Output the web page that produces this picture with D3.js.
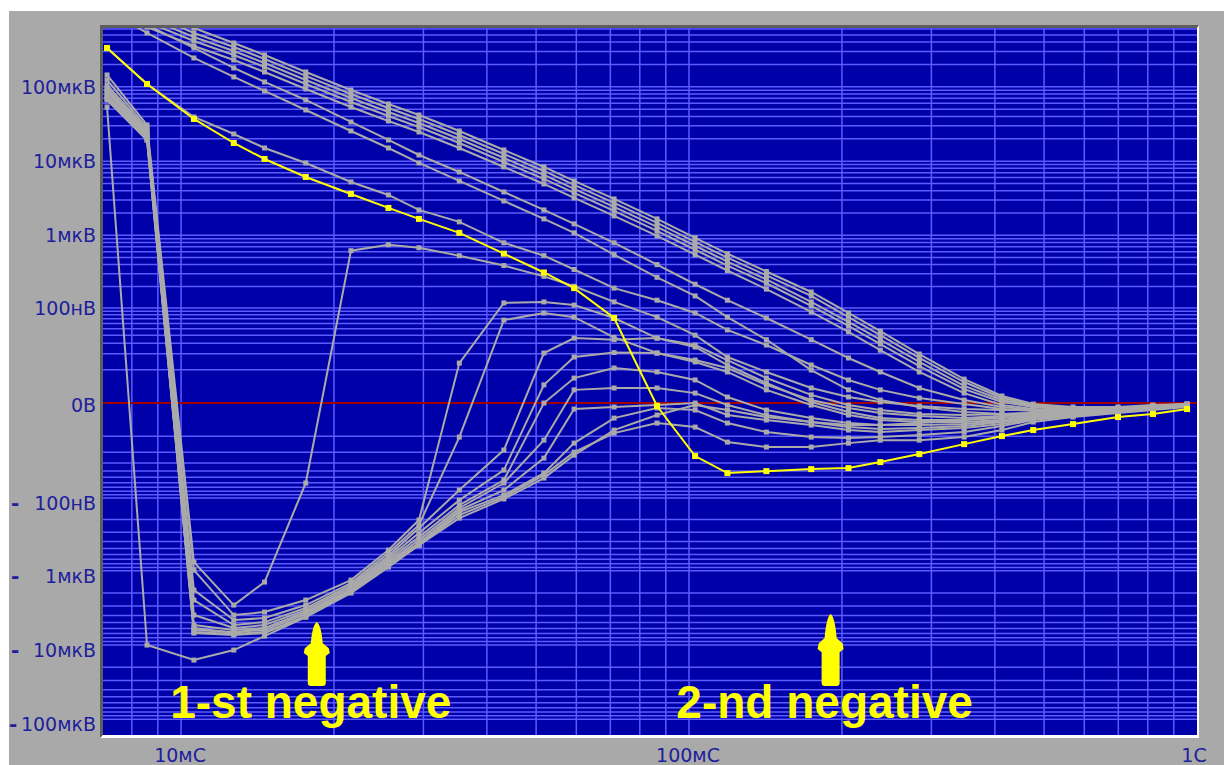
<!DOCTYPE html>
<html>
<head>
<meta charset="utf-8">
<script src="https://cdn.jsdelivr.net/npm/d3@7"></script>
<style>
  body { margin: 0; background: #ffffff; }
  svg { display: block; }
  .tick-label { font-family: "DejaVu Sans", sans-serif; font-size: 19px; fill: #20209c; }
  .minus { font-family: "DejaVu Sans", sans-serif; font-size: 20px; font-weight: bold; fill: #20209c; }
  .note { font-family: "Liberation Sans", Arial, sans-serif; font-weight: bold; font-size: 46px; fill: #ffff00; }
</style>
</head>
<body>
<svg id="chart" width="1224" height="765"></svg>
<script>
// sample times of the transient run, ms
var times = [7.15, 8.57, 10.6, 12.7, 14.6, 17.6, 21.6, 25.6, 29.4, 35.3, 43.2, 51.8, 59.4, 71.2, 86.5,
             102.8, 119, 142, 174, 206, 238, 284, 348, 413, 476, 570, 699, 819, 956];

// highlighted trace, nV
var yellowTrace = [333500, 109300, 36930, 17550, 10690, 6120, 3613, 2342, 1665, 1079, 563, 312, 190, 72, -0.54,
                   -23.2, -43.2, -40.3, -37.5, -36.2, -29.1, -21.5, -14.3, -9.93, -7.29, -5.11, -3.03, -2.26, -1.14];

// stepped runs, nV
var grayTraces = [
  [2012000, 1152000, 619800, 389400, 268500, 158500, 90760, 58800, 41810, 25460, 14130, 8345, 5407, 3095, 1665, 924, 563, 322, 168, 85, 46, 19.8, 6.1, 1.35, -0.18, -0.73, -0.73, -0.36, -0.18],
  [1723000, 986500, 530900, 344000, 237100, 140100, 80170, 51940, 36930, 22500, 12480, 7373, 4776, 2734, 1471, 816, 497, 285, 148, 74, 40, 16.9, 5.1, 0.93, -0.36, -0.93, -0.93, -0.54, -0.18],
  [1476000, 845000, 469000, 303900, 209600, 123700, 70810, 45880, 32630, 19880, 11030, 6512, 4220, 2415, 1300, 721, 439, 251, 122, 63, 34, 14.3, 3.9, 0.54, -0.54, -1.14, -0.93, -0.54, -0.18],
  [1264000, 746400, 414300, 268500, 185100, 109300, 62560, 40530, 28830, 17550, 9743, 5752, 3727, 2134, 1148, 637, 388, 222, 107, 55, 29, 11.9, 3.0, 0.18, -0.73, -1.35, -1.14, -0.73, -0.36],
  [1083000, 639200, 354800, 229900, 158500, 93600, 53580, 34710, 24690, 15030, 8345, 4927, 3193, 1827, 983, 546, 332, 184, 88, 45, 23, 9.0, 2.0, -0.36, -1.14, -1.57, -1.35, -0.73, -0.36],
  [2350000, 680000, 333500, 179500, 116300, 66560, 33660, 19270, 12100, 7148, 3843, 2200, 1426, 791, 400, 215, 129, 72, 34, 16.9, 9.0, 3.3, 0.54, -0.73, -1.35, -1.57, -1.35, -0.73, -0.36],
  [1083000, 530900, 244600, 135800, 87990, 48820, 25460, 15030, 9446, 5407, 2909, 1665, 1079, 546, 268, 148, 74, 34, 9.9, 2.8, 0.54, -0.73, -1.79, -2.26, -2.02, -1.79, -1.35, -0.73, -0.36],
  [333500, 109300, 39290, 23200, 15030, 9446, 5242, 3503, 2200, 1518, 791, 529, 343, 190, 129, 85, 48, 28, 12.5, 5.8, 2.8, 0.93, -0.18, -1.14, -1.57, -1.57, -1.35, -0.93, -0.36],
  [144500, 30670, -762, -2904, -1421, -60.7, 618, 744, 678, 529, 388, 276, 202, 122, 74, 40, 17.6, 9.0, 3.3, 1.14, 0.18, -0.54, -1.14, -1.35, -1.35, -1.14, -0.93, -0.54, -0.36],
  [123700, 27950, -978, -3961, -3608, -2485, -1336, -524, -203, 13.6, 118, 122, 110, 72, 36, 28, 15.5, 6.5, 1.6, -0.36, -1.35, -2.26, -2.51, -2.26, -2.02, -1.57, -1.14, -0.73, -0.36],
  [105900, 26270, -1822, -4625, -4347, -2904, -1466, -575, -238, -10.4, 67, 85, 74, 37, 20.6, 15.5, 10.9, 4.2, 0.54, -0.93, -2.02, -2.76, -3.30, -2.76, -2.26, -1.79, -1.35, -0.73, -0.36],
  [96540, 24690, -2485, -5400, -4922, -3187, -1560, -632, -262, -76.9, -18.3, 20.6, 36, 34, 36, 26, 12.5, 4.8, 0.18, -1.79, -3.30, -3.86, -3.86, -3.30, -2.51, -1.79, -1.35, -0.73, -0.36],
  [90760, 23930, -3961, -5927, -5400, -3391, -1660, -672, -307, -107, -38.8, 4.2, 17.6, 21, 20.6, 14.3, 9.0, 2.8, -0.36, -2.51, -3.86, -4.47, -4.47, -3.86, -2.76, -2.02, -1.35, -0.93, -0.54],
  [85300, 22500, -5400, -6305, -5927, -3608, -1766, -716, -348, -126, -54.9, 0, 6.5, 10.9, 9.0, 5.8, 1.14, -1.35, -3.30, -4.78, -5.45, -5.45, -5.11, -4.15, -3.03, -2.26, -1.57, -0.93, -0.54],
  [77720, 21810, -6305, -6710, -6305, -3840, -1822, -762, -383, -138, -60.7, -12.0, 2.8, 3.3, 3.3, 2.0, -0.36, -2.51, -4.47, -6.15, -6.90, -6.52, -5.79, -4.47, -3.30, -2.26, -1.57, -0.93, -0.54],
  [73040, 20500, -6710, -7139, -6710, -4085, -1880, -786, -420, -148, -76.9, -25.1, -1.14, -0.73, -0.36, 0, -2.51, -3.86, -5.45, -7.29, -8.12, -7.29, -6.52, -5.11, -3.58, -2.51, -1.79, -1.14, -0.54],
  [68660, 19270, -6921, -7365, -6921, -4214, -1939, -837, -448, -157, -90.7, -43.2, -13.7, -3.30, -0.93, -1.35, -4.78, -8.12, -10.4, -10.9, -10.4, -9.45, -8.12, -5.79, -3.86, -2.76, -1.79, -1.14, -0.54],
  [66560, 19270, -5927, -6921, -5927, -3608, -1822, -762, -448, -173, -96.8, -46.2, -19.9, -8.55, -4.78, -6.15, -13.1, -16.2, -16.2, -13.7, -12.0, -12.0, -10.4, -7.29, -4.47, -3.03, -2.02, -1.35, -0.73],
  [53580, -10040, -15990, -11720, -7598, -4214, -2000, -891, -448, -191, -103, -51.3, -22.4, -7.29, -2.51, -0.36, -1.35, -3.03, -4.47, -5.45, -5.45, -4.78, -3.86, -2.76, -2.02, -1.57, -1.14, -0.73, -0.36]
];

var yTicks = [100000, 10000, 1000, 100, 0, -100, -1000, -10000, -100000];
var yTickLabels = ["100мкВ", "10мкВ", "1мкВ", "100нВ", "0В", "100нВ", "1мкВ", "10мкВ", "100мкВ"];
var xTicks = [10, 100, 1000];
var xTickLabels = ["10мС", "100мС", "1С"];
var notes = [{t: 18.5, text: "1-st negative"}, {t: 190, text: "2-nd negative"}];

var svg = d3.select("#chart");
var X0 = 103, X1 = 1197, Y0 = 28, Y1 = 735;

var x = d3.scaleLog().domain([7.02, 1000]).range([X0, X1]);
var y = d3.scaleSymlog().constant(5.56).domain([-163000, 619000]).range([Y1, Y0]);

// panel + sunken frame
svg.append("rect").attr("x", 9).attr("y", 11).attr("width", 1215).attr("height", 754).attr("fill", "#a9a9a9");
svg.append("rect").attr("x", 100).attr("y", 25).attr("width", 1099).attr("height", 713).attr("fill", "#ffffff");
svg.append("path").attr("d", "M100,738 V25 H1199 L1197,28 H103 V735 Z").attr("fill", "#5e5e5e");
svg.append("rect").attr("x", X0).attr("y", Y0).attr("width", X1 - X0).attr("height", Y1 - Y0).attr("fill", "#0000a8");

svg.append("clipPath").attr("id", "plotclip")
  .append("rect").attr("x", X0).attr("y", Y0).attr("width", X1 - X0).attr("height", Y1 - Y0);

var plot = svg.append("g").attr("clip-path", "url(#plotclip)");

// grid
var xGrid = [];
[1, 10, 100].forEach(function(dec) {
  for (var k = 1; k <= 9; k++) { if (k * dec > 7.02) xGrid.push(k * dec); }
});
var yGrid = [];
[10, 100, 1000, 10000, 100000].forEach(function(dec) {
  for (var k = 1; k <= 9; k++) { yGrid.push(k * dec); yGrid.push(-k * dec); }
});

plot.selectAll(".vgrid").data(xGrid).enter().append("line")
  .attr("x1", function(d) { return x(d); }).attr("x2", function(d) { return x(d); })
  .attr("y1", Y0).attr("y2", Y1)
  .attr("stroke", "#5b5bff").attr("stroke-width", 1.5);
plot.selectAll(".hgrid").data(yGrid).enter().append("line")
  .attr("x1", X0).attr("x2", X1)
  .attr("y1", function(d) { return y(d); }).attr("y2", function(d) { return y(d); })
  .attr("stroke", "#5b5bff").attr("stroke-width", 1.5);

plot.append("line").attr("x1", X0).attr("x2", X1).attr("y1", y(0)).attr("y2", y(0))
  .attr("stroke", "#a00000").attr("stroke-width", 2);

var line = d3.line()
  .defined(function(d) { return d != null; })
  .x(function(d, i) { return x(times[i]); })
  .y(function(d) { return y(d); });

function drawTrace(vals, color, size) {
  plot.append("path").attr("d", line(vals))
    .attr("fill", "none").attr("stroke", color).attr("stroke-width", 2);
  plot.append("g").selectAll("rect").data(vals).enter().append("rect")
    .attr("x", function(d, i) { return x(times[i]) - size / 2; })
    .attr("y", function(d) { return y(d) - size / 2; })
    .attr("width", size).attr("height", size)
    .attr("fill", color);
}

grayTraces.forEach(function(vals) { drawTrace(vals, "#aaaaaa", 5); });
drawTrace(yellowTrace, "#ffff00", 6);

// y tick labels
yTicks.forEach(function(v, i) {
  var yy = y(v) + (v < 0 ? 5 : (v == 0 ? 2 : 0));
  svg.append("text").attr("class", "tick-label")
    .attr("x", 96).attr("y", yy).attr("dy", "0.36em")
    .attr("text-anchor", "end").text(yTickLabels[i]);
  if (v < 0) {
    svg.append("text").attr("class", "minus")
      .attr("x", v == -100000 ? 9 : 11).attr("y", yy).attr("dy", "0.36em").text("-");
  }
});

// x tick labels
xTicks.forEach(function(t, i) {
  svg.append("text").attr("class", "tick-label")
    .attr("x", x(t) - (t == 1000 ? 3 : 1)).attr("y", 762)
    .attr("text-anchor", "middle").text(xTickLabels[i]);
});

// annotations
var arrowPath = "M0,0 C-3,2 -5,10 -6,22 L-12,27 L-13,32 L-9,35 L-9,63 Q-9,66 -6,66 L6,66 Q9,66 9,63 L9,35 L13,32 L12,27 L6,22 C5,10 3,2 0,0 Z";
var arrowTops = [622, 614];
notes.forEach(function(n, i) {
  var ax = x(n.t);
  var h = 686 - arrowTops[i];
  svg.append("path").attr("d", arrowPath)
    .attr("transform", "translate(" + ax + "," + arrowTops[i] + ") scale(1," + (h / 66) + ")")
    .attr("fill", "#ffff00");
  svg.append("text").attr("class", "note")
    .attr("x", ax - 6).attr("y", 718)
    .attr("text-anchor", "middle").text(n.text);
});
</script>
</body>
</html>
